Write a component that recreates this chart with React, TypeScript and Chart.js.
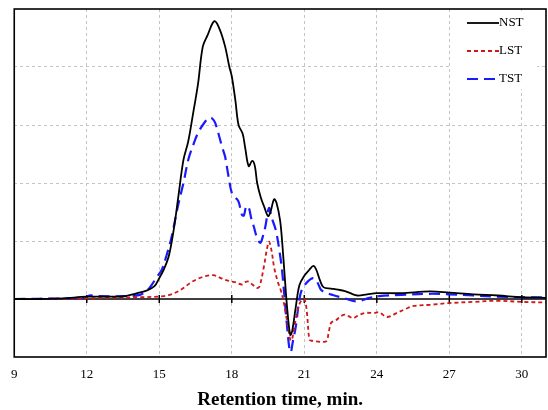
import React, { useEffect, useRef } from "react";
import { Chart, registerables } from "chart.js";

Chart.register(...registerables);

// ---- Data ----
const xTicks = [9, 12, 15, 18, 21, 24, 27, 30];
const seriesNames = ["NST", "LST", "TST"];

const nstTime = [9, 10, 11, 12, 13, 13.6, 14.0, 14.5, 14.8, 15.0, 15.2, 15.4, 15.6, 15.8, 16.0, 16.2, 16.4, 16.6, 16.8, 17.0, 17.28, 17.5, 17.72, 17.9, 18.0, 18.15, 18.28, 18.45, 18.55, 18.7, 18.84, 18.95, 19.05, 19.2, 19.35, 19.5, 19.6, 19.75, 19.85, 20.0, 20.1, 20.2, 20.3, 20.42, 20.5, 20.65, 20.8, 21.0, 21.2, 21.38, 21.5, 21.65, 21.8, 22.1, 22.4, 22.65, 22.9, 23.2, 23.6, 24.0, 25.0, 26.2, 27.0, 28.0, 29.0, 30.0, 31.0];
const nstValue = [0.0, 0.0, 0.01, 0.04, 0.04, 0.05, 0.09, 0.15, 0.22, 0.36, 0.52, 0.75, 1.2, 1.8, 2.4, 2.72, 3.2, 3.7, 4.35, 4.55, 4.79, 4.65, 4.36, 4.0, 3.84, 3.42, 3.0, 2.85, 2.62, 2.29, 2.38, 2.3, 2.0, 1.75, 1.58, 1.43, 1.5, 1.72, 1.66, 1.35, 0.9, 0.33, -0.2, -0.62, -0.55, -0.13, 0.24, 0.4, 0.5, 0.57, 0.5, 0.32, 0.2, 0.18, 0.16, 0.14, 0.1, 0.06, 0.08, 0.1, 0.1, 0.13, 0.11, 0.08, 0.06, 0.03, 0.02];

const lstTime = [9, 12, 13, 14.2, 15.2, 15.5, 15.77, 16.0, 16.33, 16.6, 16.88, 17.23, 17.5, 17.72, 18.0, 18.14, 18.42, 18.55, 18.7, 18.85, 19.05, 19.15, 19.33, 19.45, 19.54, 19.65, 19.75, 19.9, 20.02, 20.12, 20.23, 20.35, 20.44, 20.52, 20.62, 20.75, 20.86, 21.0, 21.1, 21.21, 21.3, 21.9, 22.0, 22.11, 22.3, 22.5, 22.67, 22.85, 23.02, 23.25, 23.51, 23.9, 24.1, 24.42, 24.83, 25.2, 25.53, 26.2, 27.0, 28.0, 29.0, 30.0, 31.0];
const lstValue = [0.0, 0.01, 0.02, 0.03, 0.05, 0.08, 0.13, 0.19, 0.29, 0.35, 0.39, 0.41, 0.37, 0.33, 0.3, 0.29, 0.25, 0.29, 0.3, 0.25, 0.19, 0.22, 0.56, 0.85, 0.99, 0.82, 0.55, 0.3, 0.16, 0.0, -0.24, -0.55, -0.72, -0.65, -0.41, -0.15, -0.04, 0.0, -0.2, -0.7, -0.72, -0.73, -0.6, -0.41, -0.37, -0.3, -0.27, -0.3, -0.33, -0.28, -0.24, -0.24, -0.23, -0.31, -0.24, -0.17, -0.12, -0.1, -0.07, -0.05, -0.03, -0.05, -0.06];

const tstTime = [9, 11, 11.9, 12.1, 12.5, 13.5, 14.2, 14.5, 14.65, 14.9, 15.1, 15.3, 15.5, 15.77, 16.0, 16.2, 16.4, 16.6, 16.85, 17.05, 17.17, 17.3, 17.45, 17.6, 17.72, 17.85, 18.0, 18.15, 18.28, 18.42, 18.5, 18.6, 18.7, 18.8, 18.91, 19.05, 19.18, 19.3, 19.39, 19.54, 19.65, 19.82, 20.0, 20.09, 20.25, 20.38, 20.44, 20.52, 20.65, 20.78, 20.9, 21.14, 21.38, 21.55, 21.69, 21.9, 22.18, 22.6, 23.16, 23.7, 24.1, 25.0, 26.2, 27.0, 28.0, 29.0, 30.0, 31.0];
const tstValue = [0.0, 0.01, 0.02, 0.06, 0.05, 0.05, 0.07, 0.15, 0.22, 0.38, 0.5, 0.75, 1.05, 1.6, 2.0, 2.4, 2.65, 2.86, 3.03, 3.12, 3.12, 3.05, 2.85, 2.62, 2.46, 2.15, 1.83, 1.75, 1.68, 1.45, 1.44, 1.6, 1.58, 1.4, 1.25, 1.05, 0.97, 1.1, 1.25, 1.57, 1.4, 1.19, 0.75, 0.45, -0.3, -0.85, -0.92, -0.75, -0.47, -0.05, 0.16, 0.3, 0.36, 0.28, 0.16, 0.11, 0.07, 0.02, -0.04, 0.02, 0.05, 0.07, 0.09, 0.08, 0.06, 0.04, 0.03, 0.03];

const FONT = "'Liberation Serif', 'Times New Roman', serif";

const toPoints = (xs: number[], ys: number[]) => xs.map((x, i) => ({ x, y: ys[i] }));

const frame = {
  id: "frame",
  beforeDatasetsDraw(chart: any) {
    const { ctx, chartArea, scales } = chart;
    const y0 = scales.y.getPixelForValue(0);
    ctx.save();
    ctx.strokeStyle = "#000";
    ctx.lineWidth = 1.5;
    ctx.beginPath();
    ctx.moveTo(chartArea.left, y0);
    ctx.lineTo(chartArea.right, y0);
    ctx.stroke();
    for (const t of xTicks) {
      if (t === 9) continue;
      const px = scales.x.getPixelForValue(t);
      ctx.beginPath();
      ctx.moveTo(px, y0 - 4);
      ctx.lineTo(px, y0 + 4);
      ctx.stroke();
    }
    ctx.restore();
  },
  afterDatasetsDraw(chart: any) {
    const { ctx, chartArea } = chart;
    ctx.save();
    const bx = 452, by = 11, bw = 85, bh = 78;
    ctx.fillStyle = "#fff";
    ctx.fillRect(bx, by, bw, bh);
    const ds = chart.data.datasets;
    const rows = [23, 51, 79];
    ds.forEach((d: any, i: number) => {
      const y = rows[i];
      ctx.strokeStyle = d.borderColor;
      ctx.lineWidth = d.borderWidth;
      ctx.setLineDash(d.borderDash || []);
      ctx.beginPath();
      ctx.moveTo(467, y);
      ctx.lineTo(499, y);
      ctx.stroke();
      ctx.setLineDash([]);
      ctx.fillStyle = "#000";
      ctx.font = `13px ${FONT}`;
      ctx.textBaseline = "middle";
      ctx.textAlign = "left";
      ctx.fillText(d.label, 499, y);
    });
    ctx.strokeStyle = "#000";
    ctx.lineWidth = 1.6;
    ctx.strokeRect(chartArea.left, chartArea.top, chartArea.right - chartArea.left, chartArea.bottom - chartArea.top);
    ctx.restore();
  },
};

export default function App() {
  const ref = useRef<HTMLCanvasElement | null>(null);
  useEffect(() => {
    document.body.style.margin = "0";
    const canvas = ref.current;
    if (!canvas) return;
    const chart = new Chart(canvas, {
      type: "line",
      data: {
        datasets: [
          {
            label: seriesNames[0],
            data: toPoints(nstTime, nstValue),
            borderColor: "#000000",
            borderWidth: 1.8,
            pointRadius: 0,
            tension: 0.35,
            fill: false,
          },
          {
            label: seriesNames[1],
            data: toPoints(lstTime, lstValue),
            borderColor: "#d01818",
            borderWidth: 1.8,
            borderDash: [4, 3],
            pointRadius: 0,
            tension: 0.35,
            fill: false,
          },
          {
            label: seriesNames[2],
            data: toPoints(tstTime, tstValue),
            borderColor: "#1a1aff",
            borderWidth: 2.2,
            borderDash: [11, 6],
            pointRadius: 0,
            tension: 0.35,
            fill: false,
          },
        ],
      },
      plugins: [frame],
      options: {
        animation: false,
        responsive: false,
        maintainAspectRatio: false,
        layout: { padding: { left: 13, right: 2, top: 9, bottom: 0 } },
        plugins: { legend: { display: false }, tooltip: { enabled: false } },
        scales: {
          x: {
            type: "linear",
            min: 9,
            max: 31,
            afterFit: (s: any) => {
              s.height = 53;
            },
            border: { display: false, dash: [3, 3] },
            grid: { color: "#c4c4c4", lineWidth: 1, drawTicks: false },
            ticks: {
              stepSize: 3,
              includeBounds: false,
              padding: 11,
              color: "#000",
              font: { family: FONT, size: 13, lineHeight: 1.0 },
              maxRotation: 0,
              autoSkip: false,
            },
            title: {
              display: true,
              text: "Retention time, min.",
              color: "#000",
              font: { family: FONT, size: 19, weight: "bold", lineHeight: 1.0 },
              padding: { top: 10, bottom: 0 },
            },
          },
          y: {
            min: -1,
            max: 5,
            border: { display: false, dash: [3, 3] },
            grid: {
              drawTicks: false,
              lineWidth: 1,
              color: (c: any) => {
                const v = c.tick ? c.tick.value : NaN;
                return v === 0 || v === -1 || v === 5 ? "rgba(0,0,0,0)" : "#c4c4c4";
              },
            },
            ticks: { display: false, stepSize: 1 },
          },
        },
      },
    });
    return () => chart.destroy();
  }, []);
  return (
    <div style={{ width: 548, height: 410, background: "#fff" }}>
      <canvas ref={ref} width={548} height={410} style={{ display: "block" }} />
    </div>
  );
}
